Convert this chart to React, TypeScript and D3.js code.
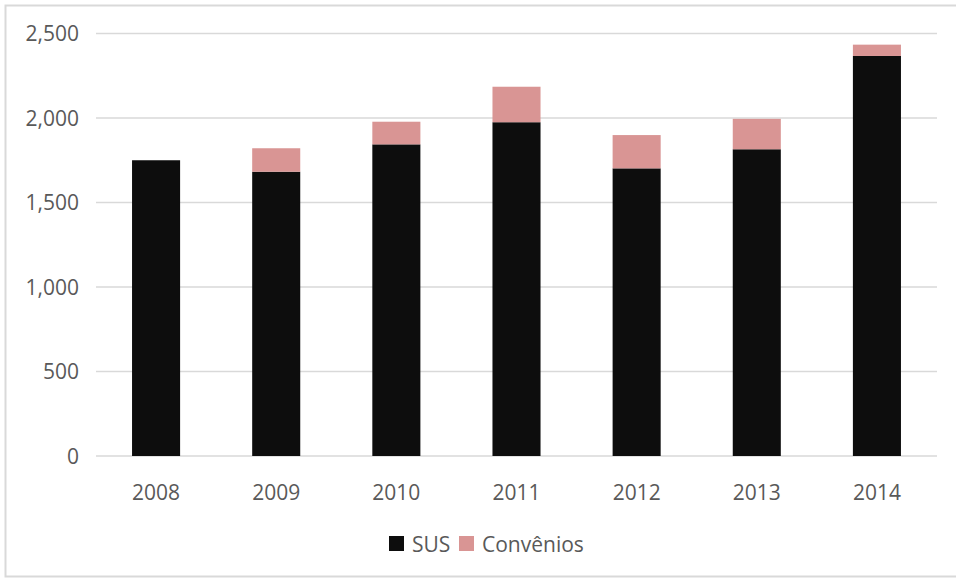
import React from "react";
import * as d3 from "d3";

const years = ["2008", "2009", "2010", "2011", "2012", "2013", "2014"];
const sus = [1750, 1682, 1844, 1975, 1702, 1815, 2367];
const convenios = [0, 139, 134, 210, 197, 180, 67];
const yTicks = [0, 500, 1000, 1500, 2000, 2500];
const seriesNames = ["SUS", "Convênios"];
const seriesColors = ["#0d0d0d", "#d99594"];

const W = 956;
const H = 579;
const FONT = "'Open Sans', 'Noto Sans', sans-serif";
const TEXT = "#595959";

export default function App() {
  const x = d3.scaleBand<string>().domain(years).range([96, 937]).paddingInner(0.6).paddingOuter(0.3);
  const y = d3.scaleLinear().domain([0, 2500]).range([456, 33.5]);
  const stackData = years.map((yr, i) => ({ year: yr, SUS: sus[i], "Convênios": convenios[i] }));
  const stacked = d3.stack<any>().keys(seriesNames)(stackData);

  return (
    <svg width={W} height={H} style={{ position: "absolute", left: 0, top: 0, background: "#fff" }}>
      <rect x={5.5} y={5.5} width={W + 10} height={571} fill="#fff" stroke="#d9d9d9" strokeWidth={2} />
      {yTicks.map((t) => (
        <g key={t}>
          <line x1={96} x2={937} y1={y(t)} y2={y(t)} stroke="#d9d9d9" strokeWidth={1.5} />
          <text x={79} y={y(t)} dy="0.36em" textAnchor="end" fontFamily={FONT} fontSize={21} fill={TEXT}>
            {d3.format(",")(t)}
          </text>
        </g>
      ))}
      {stacked.map((s, si) => (
        <g key={s.key} fill={seriesColors[si]}>
          {s.map((d, i) =>
            d[1] - d[0] > 0 ? (
              <rect key={i} x={x(years[i])} width={x.bandwidth()} y={y(d[1])} height={y(d[0]) - y(d[1])} />
            ) : null
          )}
        </g>
      ))}
      {years.map((yr) => (
        <text key={yr} x={(x(yr) as number) + x.bandwidth() / 2} y={500} textAnchor="middle" fontFamily={FONT} fontSize={21} fill={TEXT}>
          {yr}
        </text>
      ))}
      <g>
        <rect x={389} y={536} width={15} height={15} fill={seriesColors[0]} />
        <text x={412} y={551.5} fontFamily={FONT} fontSize={21} fill={TEXT}>{seriesNames[0]}</text>
        <rect x={459} y={536} width={15} height={15} fill={seriesColors[1]} />
        <text x={482} y={551.5} fontFamily={FONT} fontSize={21} fill={TEXT}>{seriesNames[1]}</text>
      </g>
    </svg>
  );
}
